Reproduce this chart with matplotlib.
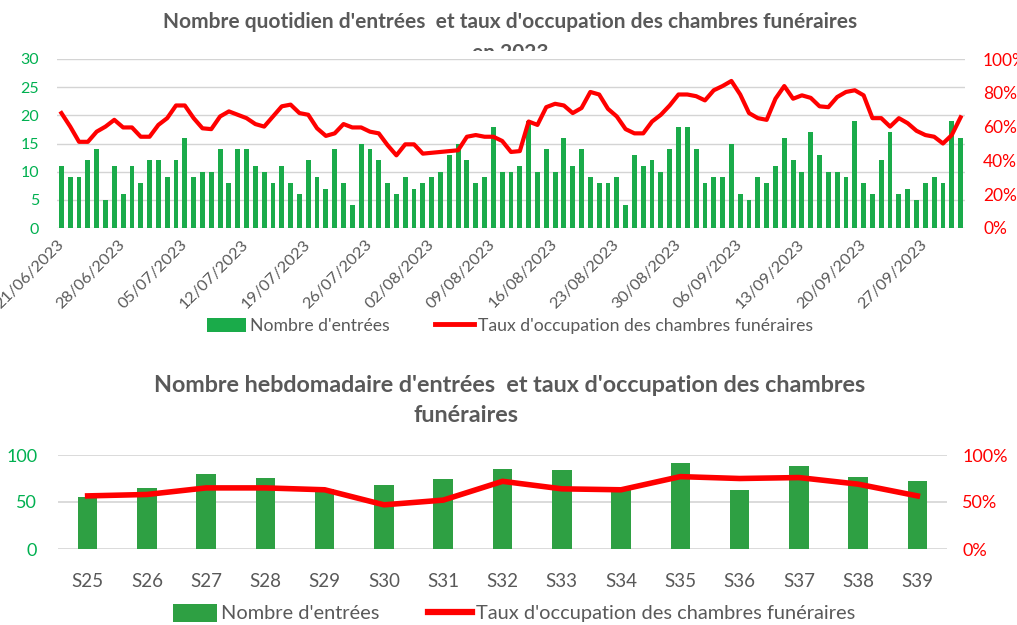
import matplotlib
matplotlib.use("Agg")
import matplotlib.pyplot as plt
from matplotlib.patches import Rectangle, Patch
from matplotlib.lines import Line2D
from matplotlib.ticker import PercentFormatter
import numpy as np
import pandas as pd

plt.rcParams['font.family'] = ['Lato', 'DejaVu Sans']

# daily data, 21/06/2023 -> 01/10/2023
start_date = "2023-06-21"
daily_entries = [11, 9, 9, 12, 14, 5, 11, 6, 11, 8, 12, 12, 9, 12, 16, 9, 10, 10, 14, 8, 14, 14, 11, 10, 8, 11,
                 8, 6, 12, 9, 7, 14, 8, 4, 15, 14, 12, 8, 6, 9, 7, 8, 9, 10, 13, 15, 12, 8, 9, 18, 10, 10,
                 11, 19, 10, 14, 10, 16, 11, 14, 9, 8, 8, 9, 4, 13, 11, 12, 10, 14, 18, 18, 14, 8, 9, 9, 15, 6,
                 5, 9, 8, 11, 16, 12, 10, 17, 13, 10, 10, 9, 19, 8, 6, 12, 17, 6, 7, 5, 8, 9, 8, 19, 16]
daily_occupation = [68, 60, 51, 51, 57, 60, 64, 59.5, 59.5, 54, 54, 61, 65, 72.5, 72.5, 65, 59, 58.5, 66, 69, 67, 65, 61.5, 60, 66, 72,
                    73, 68, 67, 59, 54.5, 56, 61.5, 59.5, 59.5, 57, 56, 49, 43, 49.5, 49.5, 44, 44.5, 45, 45.5, 46, 54, 55, 54, 54, 51.5, 45,
                    45.5, 63, 61, 71.5, 73.5, 72.5, 68, 71, 80.5, 79, 70.5, 66, 58.5, 56, 56, 63, 67, 72.5, 79, 79, 78, 75.5, 81.5, 84, 87, 79,
                    68, 65, 64, 76.5, 84, 76.5, 78.5, 77, 72, 71.5, 77.5, 80.5, 81.5, 78.5, 65, 65, 60, 65, 62, 57.5, 55, 54, 50, 55, 65.5]

# weekly data
weeks = ["S25", "S26", "S27", "S28", "S29", "S30", "S31", "S32", "S33", "S34", "S35", "S36", "S37", "S38", "S39"]
weekly_entries = [55, 65, 80, 76, 64, 68, 74, 85, 84, 64, 91, 63, 88, 77, 72]
weekly_occupation = [56.5, 58, 65, 65, 63, 47, 52, 72, 64, 63, 77, 75, 76, 69, 56.5]

GREEN = "#1aab4a"
GREEN2 = "#2ea043"
RED = "#ff0000"
GRID = "#d4d4d4"
TXT = "#595959"

W, H = 1017, 625
fig = plt.figure(figsize=(W / 100, H / 100), dpi=100)


def px(x0, y0, x1, y1):
    # pixel box -> figure fraction rect
    return [x0 / W, 1 - y1 / H, (x1 - x0) / W, (y1 - y0) / H]


# ---------- top chart ----------
dates = pd.date_range(start_date, periods=len(daily_entries), freq="D")
xd = np.arange(len(daily_entries))

ax1 = fig.add_axes(px(57, 59, 965, 228))
ax1.bar(xd, daily_entries, width=0.55, color=GREEN, zorder=2)
ax1.set_xlim(-0.5, len(xd) - 0.5)
ax1.set_ylim(0, 30)
ax1.set_yticks(range(0, 31, 5))
ax1.grid(axis="y", color=GRID, lw=1, zorder=0)
ax1.set_axisbelow(True)
ax1.tick_params(axis="y", length=0, pad=13, labelsize=11.5, labelcolor="#00b050")
tick_idx = xd[::7]
ax1.set_xticks(tick_idx)
ax1.set_xticklabels([dates[i].strftime("%d/%m/%Y") for i in tick_idx], rotation=45,
                    ha="right", va="center", rotation_mode="anchor", fontsize=11.8, color=TXT)
ax1.tick_params(axis="x", length=0, pad=10)
for s in ax1.spines.values():
    s.set_visible(False)

ax1r = ax1.twinx()
ax1r.plot(xd, np.array(daily_occupation) / 100, color=RED, lw=3, solid_joinstyle="round", zorder=3)
ax1r.set_ylim(0, 1)
ax1r.set_yticks(np.arange(0, 1.01, 0.2))
ax1r.yaxis.set_major_formatter(PercentFormatter(1, decimals=0))
ax1r.tick_params(axis="y", length=0, pad=13, labelsize=12.5, labelcolor=RED)
for s in ax1r.spines.values():
    s.set_visible(False)

fig.text(510 / W, 1 - 22 / H, "Nombre quotidien d'entrées  et taux d'occupation des chambres funéraires",
         ha="center", va="center", fontsize=15, fontweight="bold", color=TXT)
# second title line partly hidden behind the plot area
fig.text(510 / W, 1 - 53 / H, "en 2023", ha="center", va="center", fontsize=15,
         fontweight="bold", color=TXT, zorder=-2)
fig.patches.append(Rectangle((0.3, 1 - 59 / H), 0.4, 8 / H, transform=fig.transFigure,
                             facecolor="white", edgecolor="none", zorder=-1))

fig.legend(handles=[Patch(facecolor=GREEN, edgecolor="none", label="Nombre d'entrées"),
                    Line2D([], [], color=RED, lw=3.5, label="Taux d'occupation des chambres funéraires")],
           loc="center", bbox_to_anchor=(510 / W, 1 - 326 / H), ncol=2, frameon=False,
           fontsize=12.7, labelcolor=TXT, handlelength=2.2, handleheight=0.9,
           handletextpad=0.2, columnspacing=2.6)

# ---------- bottom chart ----------
xw = np.arange(len(weeks))
ax2 = fig.add_axes(px(58, 455, 947, 549))
ax2.bar(xw, weekly_entries, width=0.33, color=GREEN2, zorder=2)
ax2.set_xlim(-0.5, len(weeks) - 0.5)
ax2.set_ylim(0, 100)
ax2.set_yticks([0, 50, 100])
ax2.grid(axis="y", color=GRID, lw=1.2, zorder=0)
ax2.set_axisbelow(True)
ax2.tick_params(axis="y", length=0, pad=15, labelsize=13, labelcolor="#00b050")
ax2.set_xticks(xw)
ax2.set_xticklabels(weeks, fontsize=13.5, color=TXT)
ax2.tick_params(axis="x", length=0, pad=17)
for s in ax2.spines.values():
    s.set_visible(False)

ax2r = ax2.twinx()
ax2r.plot(xw, np.array(weekly_occupation) / 100, color=RED, lw=4, solid_joinstyle="round", zorder=3)
ax2r.set_ylim(0, 1)
ax2r.set_yticks([0, 0.5, 1])
ax2r.yaxis.set_major_formatter(PercentFormatter(1, decimals=0))
ax2r.tick_params(axis="y", length=0, pad=11, labelsize=13, labelcolor=RED)
for s in ax2r.spines.values():
    s.set_visible(False)

fig.text(510 / W, 1 - 385 / H, "Nombre hebdomadaire d'entrées  et taux d'occupation des chambres",
         ha="center", va="center", fontsize=16.8, fontweight="bold", color=TXT)
fig.text(466 / W, 1 - 416 / H, "funéraires", ha="center", va="center", fontsize=16.8,
         fontweight="bold", color=TXT)

fig.legend(handles=[Patch(facecolor=GREEN2, edgecolor="none", label="Nombre d'entrées"),
                    Line2D([], [], color=RED, lw=4.5, label="Taux d'occupation des chambres funéraires")],
           loc="center", bbox_to_anchor=(514 / W, 1 - 613 / H), ncol=2, frameon=False,
           fontsize=14.4, labelcolor=TXT, handlelength=2.2, handleheight=1.0,
           handletextpad=0.2, columnspacing=2.4)

fig.savefig("out.png", dpi=100, facecolor="white")
